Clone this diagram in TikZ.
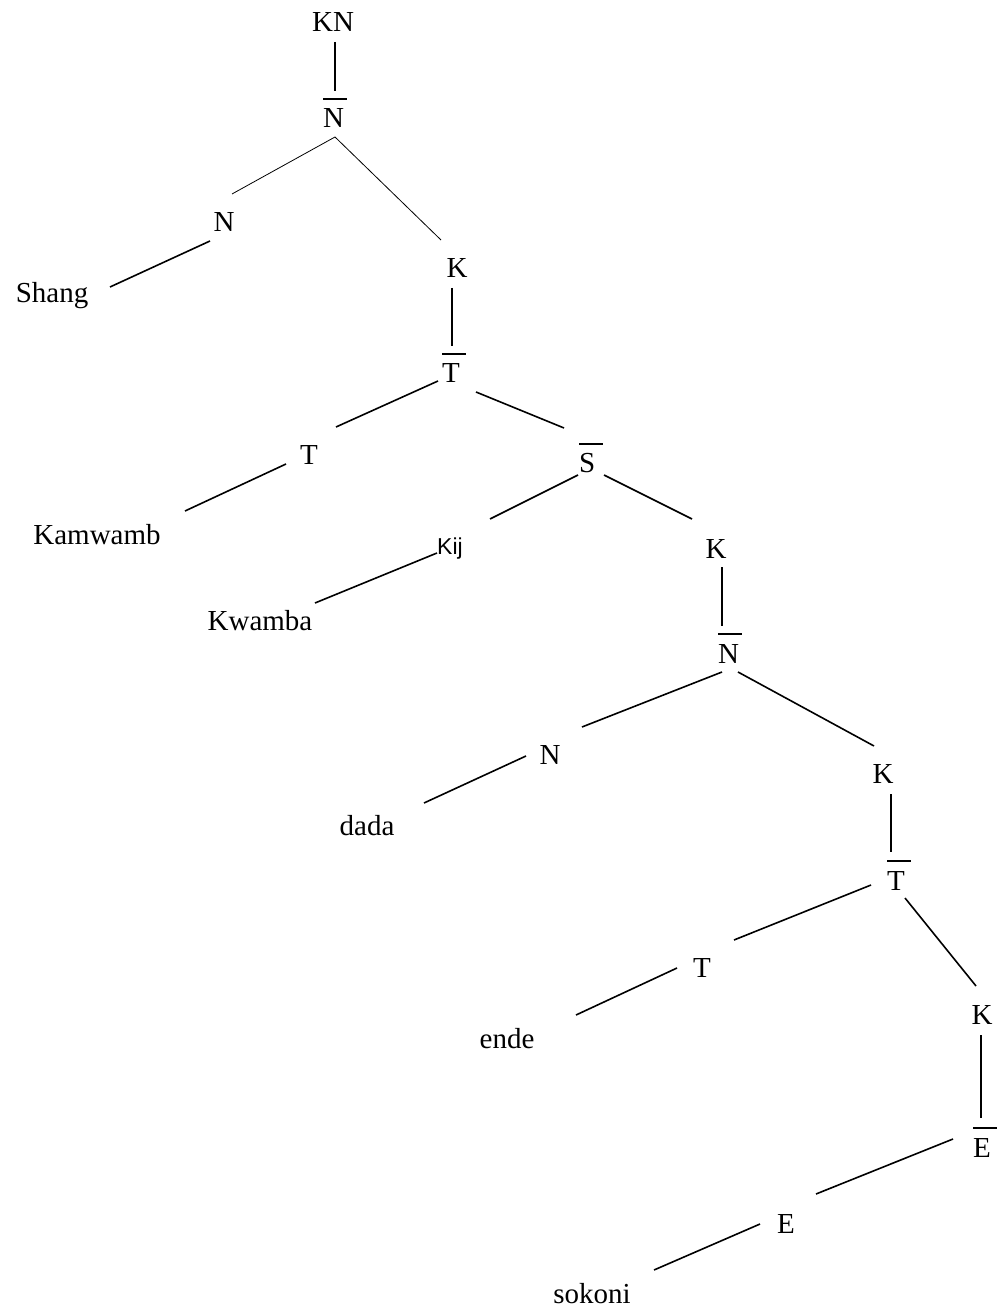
\documentclass[tikz,border=0pt]{standalone}
\usepackage{fontspec}
\setmainfont{Liberation Serif}
\newfontfamily\arialfont{Liberation Sans}
\newcommand{\ovl}[1]{\vbox{\hrule width 12pt height 1pt\kern 4.5pt\hbox{#1}}}

\begin{document}
\begin{tikzpicture}[x=0.5pt,y=-0.5pt,
  lbl/.style={anchor=base, inner sep=0pt},
  br/.style={line width=0.8pt},
  brthin/.style={line width=0.4pt}]

  \fontsize{14.5}{17}\selectfont
  \useasboundingbox (0,0) rectangle (1000,1309);

  % labels
  \node[lbl] (kn)      at (333,32)   {KN};
  \node[lbl] (nbone)   at (335,128)  {\ovl{N}};
  \node[lbl] (none)    at (224,232)  {N};
  \node[lbl] (kone)    at (457,278)  {K};
  \node[lbl] (shang)   at (52,303)   {Shang};
  \node[lbl] (tbone)   at (454,383)  {\ovl{T}};
  \node[lbl] (tone)    at (309,465)  {T};
  \node[lbl] (kamwamb) at (97,544)   {Kamwamb};
  \node[lbl] (sbar)    at (591,473)  {\ovl{S}};
  \node[lbl, font=\arialfont\fontsize{11.5}{14}\selectfont] (kij) at (450,554) {Kij};
  \node[lbl] (kwamba)  at (260,630)  {Kwamba};
  \node[lbl] (ktwo)    at (716,558)  {K};
  \node[lbl] (nbtwo)   at (730,663)  {\ovl{N}};
  \node[lbl] (nthree)  at (550,764)  {N};
  \node[lbl] (dada)    at (367,835)  {dada};
  \node[lbl] (kthree)  at (883,783)  {K};
  \node[lbl] (tbtwo)   at (899,890)  {\ovl{T}};
  \node[lbl] (tthree)  at (702,977)  {T};
  \node[lbl] (ende)    at (507,1048) {ende};
  \node[lbl] (kfour)   at (982,1024) {K};
  \node[lbl] (ebar)    at (985,1157) {\ovl{E}};
  \node[lbl] (ee)      at (786,1233) {E};
  \node[lbl] (sokoni)  at (592,1303) {sokoni};

  % branches
  \draw[br] ([shift={(2,10)}]kn.base) -- ([shift={(0,-37)}]nbone.base); %% KN->N
  \draw[brthin] ([shift={(0,9)}]nbone.base) -- ([shift={(8,-38)}]none.base); %% N->N
  \draw[brthin] ([shift={(0,9)}]nbone.base) -- ([shift={(-16,-38)}]kone.base); %% N->K
  \draw[br] ([shift={(-14,9)}]none.base) -- ([shift={(58,-16)}]shang.base); %% N->Shang
  \draw[br] ([shift={(-5,10)}]kone.base) -- ([shift={(-2,-37)}]tbone.base); %% K->T
  \draw[br] ([shift={(-16,-2)}]tbone.base) -- ([shift={(27,-38)}]tone.base); %% T->T
  \draw[br] ([shift={(22,9)}]tbone.base) -- ([shift={(-27,-45)}]sbar.base); %% T->S
  \draw[br] ([shift={(-23,-1)}]tone.base) -- ([shift={(88,-33)}]kamwamb.base); %% T->Kamwamb
  \draw[br] ([shift={(-13,2)}]sbar.base) -- ([shift={(40,-35)}]kij.base); %% S->Kij
  \draw[br] ([shift={(13,2)}]sbar.base) -- ([shift={(-24,-39)}]ktwo.base); %% S->K
  \draw[br] ([shift={(-13,-1)}]kij.base) -- ([shift={(55,-27)}]kwamba.base); %% Kij->Kwamba
  \draw[br] ([shift={(6,9)}]ktwo.base) -- ([shift={(-8,-37)}]nbtwo.base); %% K->N
  \draw[br] ([shift={(-8,9)}]nbtwo.base) -- ([shift={(32,-37)}]nthree.base); %% N->N
  \draw[br] ([shift={(8,9)}]nbtwo.base) -- ([shift={(-9,-37)}]kthree.base); %% N->K
  \draw[br] ([shift={(-24,-8)}]nthree.base) -- ([shift={(57,-32)}]dada.base); %% N->dada
  \draw[br] ([shift={(8,11)}]kthree.base) -- ([shift={(-8,-38)}]tbtwo.base); %% K->T
  \draw[br] ([shift={(-28,-5)}]tbtwo.base) -- ([shift={(32,-37)}]tthree.base); %% T->T
  \draw[br] ([shift={(6,8)}]tbtwo.base) -- ([shift={(-6,-38)}]kfour.base); %% T->K
  \draw[br] ([shift={(-25,-9)}]tthree.base) -- ([shift={(69,-33)}]ende.base); %% T->ende
  \draw[br] ([shift={(-1,11)}]kfour.base) -- ([shift={(-4,-39)}]ebar.base); %% K->E
  \draw[br] ([shift={(-32,-18)}]ebar.base) -- ([shift={(30,-39)}]ee.base); %% E->E
  \draw[br] ([shift={(-26,-9)}]ee.base) -- ([shift={(62,-33)}]sokoni.base); %% E->sokoni

\end{tikzpicture}
\end{document}
